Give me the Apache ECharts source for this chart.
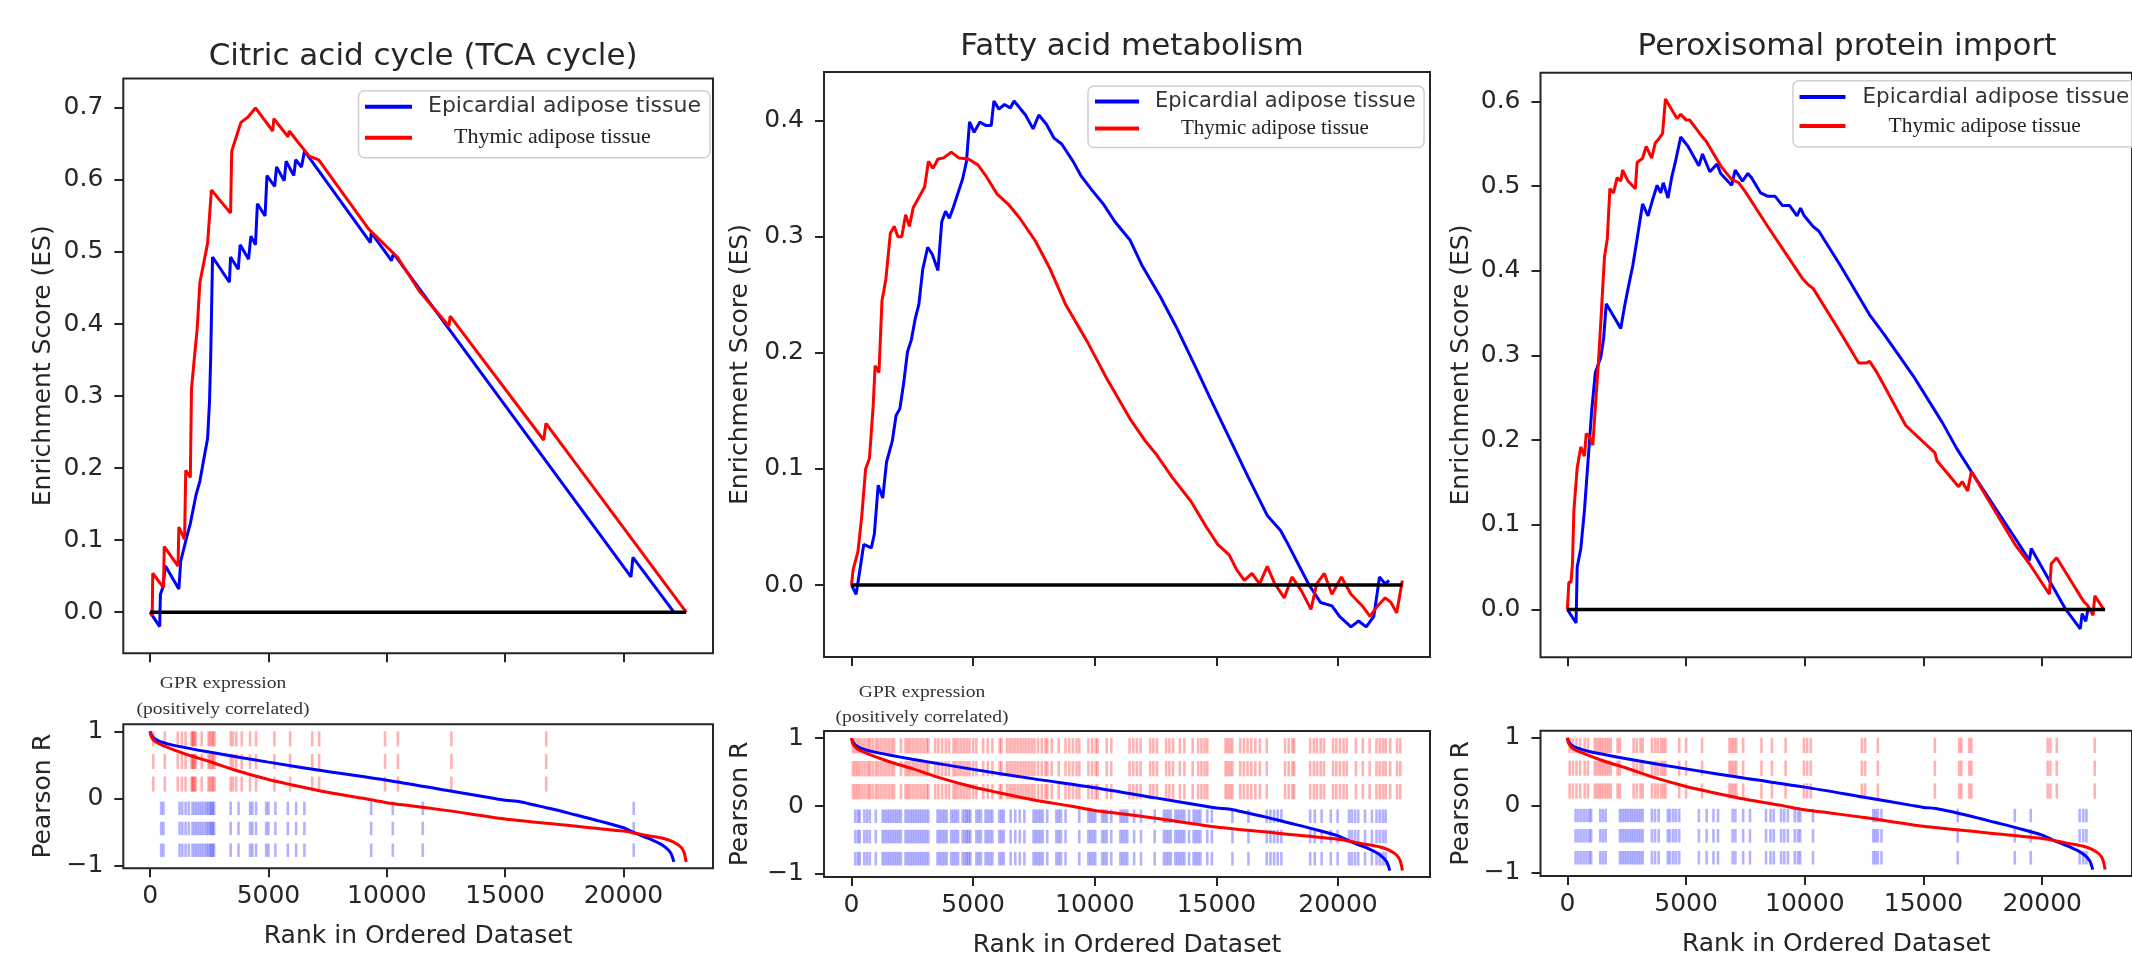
<!DOCTYPE html>
<html>
<head>
<meta charset="utf-8">
<script src="https://cdn.jsdelivr.net/npm/echarts@6/dist/echarts.min.js"></script>
<style>html,body{margin:0;padding:0;background:#fff;}#chart{width:2132px;height:961px;}</style>
</head>
<body>
<div id="chart"></div>
<script>
// ---------------- DATA ----------------
const chartTitles = ['Citric acid cycle (TCA cycle)', 'Fatty acid metabolism', 'Peroxisomal protein import'];
const seriesNames = ['Epicardial adipose tissue', 'Thymic adipose tissue'];
const rankAxisName = 'Rank in Ordered Dataset';
const esAxisName = 'Enrichment Score (ES)';
const pearsonAxisName = 'Pearson R';
const noteLines = ['GPR expression', '(positively correlated)'];

const rankTicks = [0, 5000, 10000, 15000, 20000];
const esTicksTCA = [0, 0.1, 0.2, 0.3, 0.4, 0.5, 0.6, 0.7];
const esTicksFatty = [0, 0.1, 0.2, 0.3, 0.4];
const esTicksPerox = [0, 0.1, 0.2, 0.3, 0.4, 0.5, 0.6];
const pearsonTicks = [-1, 0, 1];

const rankLimits = [-1132, 23782];
const esLimitsTCA = [-0.057, 0.741];
const esLimitsFatty = [-0.062, 0.442];
const esLimitsPerox = [-0.0565, 0.634];
const pearsonLimits = [-1.045, 1.105];
const zeroLineRanks = [0, 22650];

// Running enrichment score, [rank, ES]
const esTCAEpicardial = [[0,0],[405,-0.02],[437,0.025],[534,0.034],[648,0.064],[1214,0.032],[1295,0.071],[1538,0.103],[1700,0.123],[1943,0.163],[2105,0.182],[2267,0.212],[2429,0.241],[2509,0.291],[2558,0.35],[2639,0.493],[3351,0.458],[3400,0.493],[3724,0.476],[3805,0.51],[4161,0.49],[4258,0.522],[4452,0.51],[4533,0.567],[4857,0.55],[4938,0.606],[5262,0.591],[5343,0.618],[5667,0.599],[5747,0.626],[6071,0.606],[6152,0.628],[6395,0.618],[6525,0.64],[9309,0.513],[9342,0.527],[10200,0.488],[10281,0.498],[20318,0.049],[20399,0.076],[22130,0]];
const esTCAThymic = [[0,0],[90,-0.005],[113,0.054],[567,0.034],[599,0.091],[1182,0.064],[1214,0.118],[1457,0.101],[1506,0.197],[1700,0.187],[1749,0.31],[1862,0.35],[1991,0.394],[2105,0.458],[2429,0.512],[2590,0.586],[3400,0.554],[3449,0.64],[3643,0.66],[3837,0.68],[4128,0.687],[4452,0.70],[5181,0.668],[5229,0.685],[5828,0.66],[5877,0.668],[6719,0.633],[7124,0.628],[9228,0.532],[10443,0.493],[11414,0.444],[12628,0.397],[12677,0.411],[16627,0.239],[16724,0.262],[22650,0]];

const esFattyEpicardial = [[0,0],[188,-0.008],[344,0.013],[501,0.035],[814,0.032],[939,0.044],[1096,0.086],[1283,0.075],[1440,0.106],[1675,0.124],[1831,0.146],[1988,0.152],[2144,0.174],[2301,0.201],[2457,0.211],[2614,0.229],[2770,0.242],[2927,0.272],[3130,0.291],[3318,0.285],[3553,0.271],[3709,0.313],[3866,0.322],[4022,0.316],[4179,0.325],[4413,0.34],[4570,0.35],[4726,0.365],[4852,0.399],[5039,0.39],[5274,0.399],[5509,0.396],[5744,0.396],[5853,0.417],[6057,0.41],[6291,0.414],[6526,0.411],[6683,0.417],[6917,0.411],[7152,0.405],[7465,0.393],[7700,0.405],[8013,0.397],[8326,0.385],[8639,0.38],[9108,0.365],[9421,0.353],[9891,0.34],[10360,0.328],[10830,0.313],[11456,0.297],[11925,0.276],[12708,0.248],[13334,0.223],[14116,0.189],[14742,0.161],[15525,0.127],[16307,0.093],[17090,0.06],[17638,0.047],[17872,0.038],[18342,0.019],[18811,0],[19281,-0.015],[19750,-0.018],[20063,-0.027],[20533,-0.036],[20846,-0.031],[21159,-0.036],[21472,-0.027],[21707,0.007],[21941,0.001],[22098,0.004]];
const esFattyThymic = [[0,0],[63,0.013],[266,0.029],[423,0.06],[579,0.1],[736,0.109],[892,0.155],[970,0.189],[1127,0.183],[1252,0.245],[1409,0.263],[1596,0.303],[1753,0.309],[1909,0.3],[2066,0.3],[2222,0.319],[2379,0.309],[2535,0.325],[2770,0.334],[3005,0.343],[3161,0.365],[3349,0.359],[3553,0.367],[3787,0.368],[4100,0.373],[4413,0.368],[4805,0.367],[5196,0.362],[5509,0.353],[5978,0.337],[6448,0.328],[6917,0.316],[7543,0.297],[8169,0.272],[8795,0.242],[9734,0.208],[10517,0.177],[11456,0.143],[12082,0.124],[12551,0.112],[13177,0.093],[13960,0.072],[14586,0.05],[15055,0.035],[15525,0.026],[15838,0.013],[16151,0.004],[16464,0.01],[16777,0.001],[17090,0.016],[17403,0.001],[17794,-0.011],[18107,0.007],[18498,-0.005],[18890,-0.021],[19124,0.001],[19437,0.01],[19750,-0.008],[20141,0.007],[20533,-0.008],[21002,-0.018],[21315,-0.027],[21628,-0.018],[21941,-0.011],[22176,-0.015],[22411,-0.024],[22646,0.004]];

const esPeroxEpicardial = [[0,0],[367,-0.016],[413,0.05],[566,0.072],[719,0.117],[872,0.176],[1025,0.235],[1178,0.28],[1408,0.298],[1530,0.321],[1637,0.361],[2249,0.332],[2402,0.357],[2555,0.379],[2754,0.406],[2938,0.438],[3167,0.479],[3397,0.465],[3580,0.483],[3779,0.501],[3932,0.492],[4039,0.504],[4238,0.486],[4391,0.51],[4544,0.528],[4774,0.558],[5080,0.547],[5539,0.524],[5692,0.538],[5998,0.517],[6304,0.526],[6457,0.515],[6916,0.501],[7069,0.519],[7375,0.506],[7604,0.515],[7757,0.51],[8140,0.492],[8446,0.488],[8752,0.488],[9058,0.477],[9364,0.477],[9670,0.465],[9823,0.474],[9976,0.465],[10358,0.452],[10588,0.447],[11506,0.406],[12730,0.348],[13342,0.325],[14566,0.276],[15790,0.221],[16402,0.19],[17014,0.163],[18773,0.088],[19462,0.058],[19538,0.072],[20992,0],[21604,-0.023],[21680,-0.005],[21833,-0.014],[21940,0.002]];
const esPeroxThymic = [[0,0],[61,0.032],[153,0.032],[214,0.054],[275,0.117],[413,0.167],[566,0.192],[719,0.181],[796,0.208],[949,0.203],[1071,0.194],[1178,0.239],[1301,0.289],[1408,0.339],[1561,0.416],[1683,0.438],[1790,0.497],[1943,0.492],[2096,0.51],[2249,0.506],[2326,0.519],[2555,0.506],[2861,0.497],[2938,0.528],[3167,0.533],[3320,0.547],[3550,0.533],[3703,0.551],[3856,0.556],[4009,0.562],[4131,0.603],[4468,0.587],[4621,0.58],[4774,0.585],[5003,0.578],[5156,0.578],[5692,0.558],[5845,0.553],[6457,0.524],[6916,0.508],[7222,0.504],[7528,0.492],[8446,0.452],[9211,0.42],[9899,0.391],[10129,0.384],[10358,0.379],[11353,0.334],[12271,0.291],[12577,0.291],[12730,0.293],[13036,0.28],[13112,0.276],[14260,0.217],[15484,0.185],[15560,0.176],[16478,0.145],[16631,0.151],[16861,0.14],[17014,0.163],[18850,0.077],[19462,0.054],[20303,0.018],[20380,0.054],[20609,0.061],[21757,0.009],[21910,0.005],[22139,-0.007],[22216,0.016],[22598,0]];

// Ranked Pearson R (same ranking in all three panels)
const pearsonEpicardial = [[0,1.0],[50,0.95],[150,0.9],[400,0.85],[1000,0.79],[2500,0.69],[5000,0.54],[7500,0.40],[10000,0.27],[12500,0.12],[14500,0.0],[15000,-0.03],[15500,-0.045],[16000,-0.08],[17000,-0.16],[18000,-0.25],[19000,-0.34],[20000,-0.44],[20500,-0.52],[21000,-0.59],[21500,-0.67],[21800,-0.74],[22000,-0.82],[22130,-0.95]];
const pearsonThymic = [[0,1.0],[50,0.92],[200,0.85],[600,0.78],[1500,0.66],[2500,0.55],[3500,0.43],[5000,0.28],[6000,0.2],[7500,0.09],[9000,0.0],[10000,-0.065],[11000,-0.11],[12500,-0.18],[15000,-0.31],[17500,-0.40],[20000,-0.49],[20500,-0.52],[21000,-0.555],[21700,-0.6],[22100,-0.65],[22400,-0.72],[22550,-0.8],[22650,-0.95]];

// Gene-set hit positions (ranks)
const hitsTCAThymic = [136,623,1168,1343,1498,1751,1790,1829,1880,1927,2180,2471,2530,2608,2660,2724,3405,3503,3639,3873,4223,4476,5254,5916,6850,7142,9925,10470,12727,16736];
const hitsTCAEpicardial = [467,564,1245,1362,1498,1635,1790,1888,1985,2082,2180,2277,2374,2452,2530,2588,2647,2705,3405,3736,4223,4320,4476,4904,5001,5293,5819,6169,6519,9341,10255,11520,20433];
const hitsFattyThymic = [56,150,244,338,451,564,677,752,865,996,1090,1203,1316,1429,1542,1654,1748,2030,2218,2312,2406,2519,2632,2745,2858,2970,3083,3158,3440,3572,3722,3873,4004,4192,4286,4399,4512,4625,4738,4850,5001,5132,5414,5602,5790,6091,6166,6392,6505,6618,6730,6843,6956,7069,7182,7294,7407,7520,7670,7821,7971,8046,8234,8516,8798,8949,9099,9250,9362,9738,9889,10039,10114,10490,10678,11430,11581,11731,11882,12276,12408,12558,12934,13066,13216,13498,13686,14025,14250,14382,14514,14626,15378,15472,15566,15660,15980,16130,16281,16431,16600,16788,17070,17822,17973,18123,18198,18856,19007,19138,19289,19420,19796,19928,20078,20229,20360,20736,21018,21300,21582,21714,21846,21958,22146,22428,22560];
const hitsFattyEpicardial = [150,263,338,526,639,752,996,1278,1372,1466,1560,1654,1748,1842,1936,2030,2218,2312,2406,2500,2594,2688,2782,2876,2970,3064,3158,3534,3628,3722,3816,3910,4098,4192,4286,4380,4568,4662,4738,4813,4888,5132,5226,5320,5508,5602,5696,5790,6072,6166,6260,6542,6730,6918,7106,7482,7576,7670,7764,7858,8046,8422,8516,8610,8798,9362,9738,9832,9926,10020,10302,10396,10490,10678,11054,11148,11242,11336,11618,11900,12464,12840,12934,13028,13122,13310,13404,13498,13592,13686,13874,14062,14156,14250,14344,14626,14814,15660,16318,17070,17221,17371,17521,17672,18856,19044,19326,19702,19984,20454,20567,20699,20830,21112,21394,21582,21714,21846,21958];
const hitsPeroxThymic = [96,231,385,538,731,865,1154,1250,1346,1442,1538,1635,1731,1827,2115,2211,2788,2923,3077,3173,3558,3692,3808,3942,4038,4134,4711,5000,5673,6827,6923,7019,7115,7404,8173,8615,9192,9961,10096,10250,12403,12538,13076,15480,16499,16595,16922,17019,20230,20345,20615,22211];
const hitsPeroxEpicardial = [346,462,577,692,808,923,1000,1385,1500,1615,2211,2308,2404,2500,2596,2692,2788,2885,2981,3077,3173,3558,3692,3846,4231,4327,4461,4577,4711,5538,5865,6154,6346,6961,7077,7404,7692,8365,8557,8692,9000,9134,9288,9577,9711,9807,10346,12884,12980,13076,13230,16442,18845,19518,21576,21730,21864];

// ---------------- PANEL ASSEMBLY ----------------
const panelData = [
  { title: chartTitles[0], esTicks: esTicksTCA, esLimits: esLimitsTCA, es: [esTCAEpicardial, esTCAThymic], hits: [hitsTCAEpicardial, hitsTCAThymic], note: true },
  { title: chartTitles[1], esTicks: esTicksFatty, esLimits: esLimitsFatty, es: [esFattyEpicardial, esFattyThymic], hits: [hitsFattyEpicardial, hitsFattyThymic], note: true },
  { title: chartTitles[2], esTicks: esTicksPerox, esLimits: esLimitsPerox, es: [esPeroxEpicardial, esPeroxThymic], hits: [hitsPeroxEpicardial, hitsPeroxThymic], note: false }
];

// layout (pixels) and styles
const layout = [
  { top: {left: 123.3, top: 78.4, width: 589.7, height: 574.8}, bottom: {left: 123.3, top: 724.3, width: 589.7, height: 144},
    titleTop: 36, nameGap: 67, legend: {left: 358.5, top: 90.7, padding: [5, 9, 9, 6.5], itemWidth: 47, itemGap: 9, fontSize: 22, padA: 11, padB: 37},
    note: {x: 223, y: [683.5, 709.5]} },
  { top: {left: 824, top: 72, width: 606, height: 585}, bottom: {left: 824, top: 731, width: 606, height: 146},
    titleTop: 26, nameGap: 71, legend: {left: 1088, top: 86, padding: [5, 8.5, 8.5, 7], itemWidth: 44, itemGap: 6, fontSize: 21, padA: 11, padB: 37},
    note: {x: 922, y: [692.5, 718]} },
  { top: {left: 1540.5, top: 72.7, width: 603, height: 584.6}, bottom: {left: 1540.5, top: 730.7, width: 603, height: 145.3},
    titleTop: 26, nameGap: 67, legend: {left: 1793, top: 80.7, padding: [5.3, 9, 10, 6.5], itemWidth: 46, itemGap: 7, fontSize: 21.5, padA: 12, padB: 38},
    note: null }
];

const BLUE = '#0000ff', RED = '#ff0000';
const TXT = '#262626', AX = '#262626';
const FONT = 'DejaVu Sans';
const SERIF = 'Liberation Serif';
const minusFmt = v => (v < 0 ? '\u2212' + Math.abs(v) : String(v));

function hitRenderer(rows, color) {
  return function (params, api) {
    const x = api.coord([api.value(0), 0])[0];
    const children = rows.map(r => {
      const y1 = api.coord([0, r[0]])[1];
      const y2 = api.coord([0, r[1]])[1];
      return { type: 'rect', shape: { x: x - 1.3, y: Math.min(y1, y2), width: 2.6, height: Math.abs(y2 - y1) }, style: { fill: color } };
    });
    return { type: 'group', children };
  };
}
const redRows = [[1.0, 0.775], [0.6625, 0.4375], [0.325, 0.1]];
const blueRows = [[-0.05, -0.25], [-0.35, -0.55], [-0.675, -0.875]];

const grids = [], xAxes = [], yAxes = [], series = [], titles = [], legends = [], graphics = [];

panelData.forEach((p, i) => {
  const L = layout[i];
  const gt = 2 * i, gb = 2 * i + 1;
  grids.push(Object.assign({ show: true, borderColor: AX, borderWidth: 2, backgroundColor: 'transparent' }, L.top));
  grids.push(Object.assign({ show: true, borderColor: AX, borderWidth: 2, backgroundColor: 'transparent' }, L.bottom));

  const xBase = (showLabels) => ({
    type: 'value', min: rankLimits[0], max: rankLimits[1],
    axisLine: { show: false, onZero: false },
    axisTick: { show: true, length: 9, lineStyle: { color: AX, width: 2 }, customValues: rankTicks },
    axisLabel: { show: showLabels, customValues: rankTicks, formatter: v => String(v), fontFamily: FONT, fontSize: 25, color: TXT, margin: 16 },
    splitLine: { show: false }
  });
  xAxes.push(Object.assign(xBase(false), { gridIndex: gt }));
  xAxes.push(Object.assign(xBase(true), { gridIndex: gb, name: rankAxisName, nameLocation: 'middle', nameGap: 56,
    nameTextStyle: { fontFamily: FONT, fontSize: 25, color: TXT } }));

  yAxes.push({
    type: 'value', gridIndex: gt, min: p.esLimits[0], max: p.esLimits[1],
    axisLine: { show: false, onZero: false },
    axisTick: { show: true, length: 9, lineStyle: { color: AX, width: 2 }, customValues: p.esTicks },
    axisLabel: { customValues: p.esTicks, formatter: v => v.toFixed(1), fontFamily: FONT, fontSize: 25, color: TXT, margin: 20 },
    splitLine: { show: false },
    name: esAxisName, nameLocation: 'middle', nameGap: L.nameGap, nameTextStyle: { fontFamily: FONT, fontSize: 25, color: TXT }
  });
  yAxes.push({
    type: 'value', gridIndex: gb, min: pearsonLimits[0], max: pearsonLimits[1],
    axisLine: { show: false, onZero: false },
    axisTick: { show: true, length: 9, lineStyle: { color: AX, width: 2 }, customValues: pearsonTicks },
    axisLabel: { customValues: pearsonTicks, formatter: minusFmt, fontFamily: FONT, fontSize: 25, color: TXT, margin: 20 },
    splitLine: { show: false },
    name: pearsonAxisName, nameLocation: 'middle', nameGap: L.nameGap, nameTextStyle: { fontFamily: FONT, fontSize: 25, color: TXT }
  });

  // top: ES curves
  series.push({ name: seriesNames[0], type: 'line', xAxisIndex: gt, yAxisIndex: gt, data: p.es[0], symbol: 'none', silent: true,
    lineStyle: { color: BLUE, width: 3 }, itemStyle: { color: BLUE }, z: 3 });
  series.push({ name: seriesNames[1], type: 'line', xAxisIndex: gt, yAxisIndex: gt, data: p.es[1], symbol: 'none', silent: true,
    lineStyle: { color: RED, width: 3 }, itemStyle: { color: RED }, z: 4 });
  series.push({ name: 'baseline', type: 'line', xAxisIndex: gt, yAxisIndex: gt, data: [[zeroLineRanks[0], 0], [zeroLineRanks[1], 0]],
    symbol: 'none', silent: true, lineStyle: { color: '#000', width: 3.5 }, z: 5 });

  // bottom: hits + Pearson curves
  series.push({ name: 'hits ' + seriesNames[1], type: 'custom', xAxisIndex: gb, yAxisIndex: gb, coordinateSystem: 'cartesian2d',
    data: p.hits[1].map(v => [v]), encode: { x: 0 }, renderItem: hitRenderer(redRows, 'rgba(255,0,0,0.3)'), silent: true, z: 1 });
  series.push({ name: 'hits ' + seriesNames[0], type: 'custom', xAxisIndex: gb, yAxisIndex: gb, coordinateSystem: 'cartesian2d',
    data: p.hits[0].map(v => [v]), encode: { x: 0 }, renderItem: hitRenderer(blueRows, 'rgba(0,0,255,0.3)'), silent: true, z: 1 });
  series.push({ name: 'Pearson ' + seriesNames[0], type: 'line', xAxisIndex: gb, yAxisIndex: gb, data: pearsonEpicardial, symbol: 'none', smooth: 0.3, silent: true,
    lineStyle: { color: BLUE, width: 3 }, z: 3 });
  series.push({ name: 'Pearson ' + seriesNames[1], type: 'line', xAxisIndex: gb, yAxisIndex: gb, data: pearsonThymic, symbol: 'none', smooth: 0.3, silent: true,
    lineStyle: { color: RED, width: 3 }, z: 4 });

  titles.push({ text: p.title, left: L.top.left + L.top.width / 2, top: L.titleTop, textAlign: 'center',
    textStyle: { fontFamily: FONT, fontSize: 31, fontWeight: 'normal', color: TXT } });

  const lg = L.legend;
  legends.push({
    data: seriesNames, orient: 'vertical', left: lg.left, top: lg.top, padding: lg.padding, itemWidth: lg.itemWidth, itemHeight: 4,
    itemGap: lg.itemGap, icon: 'rect', selectedMode: false, backgroundColor: 'rgba(255,255,255,0.8)', borderColor: '#cfcfcf',
    borderWidth: 1.5, borderRadius: 6,
    formatter: n => (n === seriesNames[0] ? '{a|' + n + '}' : '{b|' + n + '}'),
    textStyle: { rich: {
      a: { fontFamily: FONT, fontSize: lg.fontSize, color: '#333', lineHeight: 26, padding: [0, 0, 0, lg.padA] },
      b: { fontFamily: SERIF, fontSize: lg.fontSize, color: '#222', lineHeight: 26, padding: [0, 0, 0, lg.padB] }
    } }
  });

  if (p.note && L.note) {
    noteLines.forEach((t, k) => {
      graphics.push({ type: 'text', x: L.note.x, y: L.note.y[k], scaleX: 1.22, silent: true,
        style: { text: t, x: 0, y: 0, fontFamily: SERIF, fontSize: 16, fill: '#333', textAlign: 'center', textVerticalAlign: 'middle' } });
    });
  }
});

const chart = echarts.init(document.getElementById('chart'), null, { renderer: 'canvas' });
chart.setOption({
  animation: false,
  backgroundColor: '#ffffff',
  title: titles,
  legend: legends,
  grid: grids,
  xAxis: xAxes,
  yAxis: yAxes,
  series: series,
  graphic: graphics
});
</script>
</body>
</html>
